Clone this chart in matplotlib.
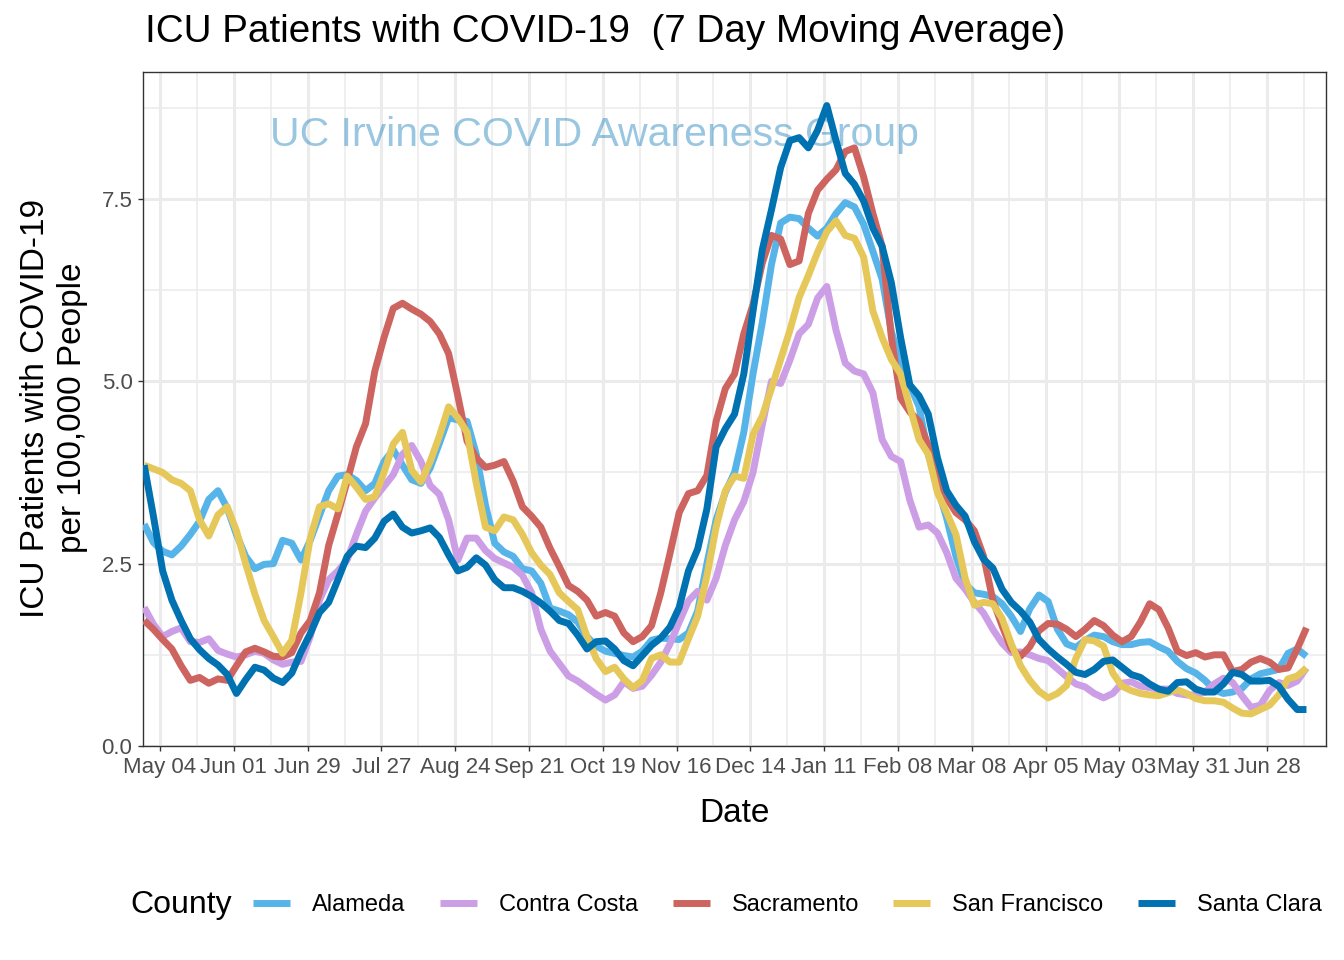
import matplotlib
matplotlib.use("Agg")
import matplotlib.pyplot as plt
import matplotlib.dates as mdates
from matplotlib.ticker import FixedLocator, FormatStrFormatter
import pandas as pd

plt.rcParams['font.family'] = ['Liberation Sans', 'DejaVu Sans']

# ---------------- data (half-weekly readings of the 7-day average) ----------------
dates = pd.date_range('2020-04-28', periods=127, freq='84h')

counties = ['Alameda', 'Contra Costa', 'Sacramento', 'San Francisco', 'Santa Clara']
colors = ['#56B4E9', '#CC9EE6', '#CD6460', '#E6C85A', '#0072B2']

alameda = [3.04, 2.79, 2.67, 2.62, 2.74, 2.90, 3.08, 3.38, 3.50, 3.26,
           2.90, 2.60, 2.43, 2.49, 2.50, 2.82, 2.78, 2.55, 2.82, 3.16,
           3.50, 3.70, 3.72, 3.64, 3.50, 3.60, 3.90, 4.06, 3.85, 3.65,
           3.60, 3.81, 4.15, 4.50, 4.47, 4.45, 4.00, 3.30, 2.78, 2.66,
           2.60, 2.43, 2.40, 2.23, 1.89, 1.85, 1.80, 1.70, 1.50, 1.37,
           1.30, 1.27, 1.24, 1.22, 1.30, 1.45, 1.48, 1.47, 1.46, 1.55,
           1.85, 2.50, 3.10, 3.48, 3.75, 4.30, 5.10, 5.80, 6.60, 7.17,
           7.25, 7.23, 7.10, 6.99, 7.10, 7.30, 7.45, 7.39, 7.15, 6.78,
           6.40, 5.68, 5.27, 4.95, 4.65, 4.00, 3.55, 3.12, 2.60, 2.22,
           2.10, 2.08, 2.05, 1.95, 1.78, 1.57, 1.88, 2.07, 1.98, 1.60,
           1.40, 1.35, 1.45, 1.52, 1.50, 1.43, 1.39, 1.39, 1.42, 1.43,
           1.36, 1.30, 1.16, 1.06, 1.00, 0.90, 0.77, 0.72, 0.74, 0.79,
           0.92, 0.99, 1.02, 1.05, 1.27, 1.33, 1.23]

contra_costa = [1.90, 1.67, 1.50, 1.57, 1.62, 1.43, 1.42, 1.47, 1.31, 1.26,
                1.22, 1.25, 1.30, 1.27, 1.18, 1.12, 1.15, 1.16, 1.50, 2.00,
                2.28, 2.40, 2.55, 2.90, 3.22, 3.40, 3.56, 3.72, 4.00, 4.12,
                3.90, 3.57, 3.45, 3.10, 2.55, 2.85, 2.85, 2.68, 2.57, 2.51,
                2.45, 2.34, 2.10, 1.60, 1.30, 1.13, 0.96, 0.89, 0.80, 0.71,
                0.63, 0.70, 0.88, 0.79, 0.82, 0.97, 1.15, 1.40, 1.70, 1.99,
                2.12, 2.00, 2.30, 2.75, 3.10, 3.35, 3.75, 4.40, 5.00, 4.97,
                5.29, 5.65, 5.78, 6.14, 6.30, 5.70, 5.25, 5.14, 5.10, 4.84,
                4.20, 3.97, 3.90, 3.37, 3.00, 3.03, 2.92, 2.65, 2.30, 2.15,
                1.97, 1.82, 1.60, 1.41, 1.28, 1.29, 1.25, 1.20, 1.17, 1.06,
                0.95, 0.85, 0.81, 0.72, 0.66, 0.72, 0.86, 0.88, 0.82, 0.80,
                0.78, 0.78, 0.72, 0.70, 0.70, 0.74, 0.85, 0.93, 0.87, 0.69,
                0.53, 0.56, 0.76, 0.87, 0.83, 0.89, 1.07]

sacramento = [1.72, 1.60, 1.46, 1.33, 1.10, 0.90, 0.94, 0.86, 0.92, 0.90,
              1.10, 1.29, 1.34, 1.29, 1.23, 1.22, 1.28, 1.55, 1.72, 2.10,
              2.75, 3.18, 3.63, 4.10, 4.42, 5.14, 5.60, 6.00, 6.07, 5.99,
              5.92, 5.82, 5.65, 5.38, 4.80, 4.18, 3.95, 3.82, 3.85, 3.90,
              3.63, 3.28, 3.15, 3.00, 2.71, 2.46, 2.20, 2.12, 2.00, 1.78,
              1.83, 1.78, 1.55, 1.43, 1.50, 1.65, 2.10, 2.64, 3.20, 3.46,
              3.50, 3.71, 4.45, 4.90, 5.10, 5.65, 6.05, 6.62, 7.00, 6.95,
              6.60, 6.65, 7.30, 7.62, 7.77, 7.90, 8.15, 8.20, 7.80, 7.30,
              6.85, 5.60, 4.77, 4.58, 4.45, 4.12, 3.70, 3.40, 3.20, 3.10,
              2.95, 2.60, 2.00, 1.65, 1.33, 1.23, 1.36, 1.58, 1.68, 1.67,
              1.60, 1.50, 1.60, 1.72, 1.65, 1.52, 1.43, 1.50, 1.70, 1.95,
              1.87, 1.62, 1.30, 1.24, 1.28, 1.22, 1.25, 1.25, 1.02, 1.05,
              1.15, 1.20, 1.15, 1.05, 1.07, 1.33, 1.62]

san_francisco = [3.85, 3.80, 3.75, 3.65, 3.60, 3.50, 3.10, 2.88, 3.17, 3.28,
                 2.95, 2.50, 2.08, 1.72, 1.50, 1.27, 1.45, 2.10, 2.85, 3.28,
                 3.32, 3.25, 3.70, 3.55, 3.38, 3.42, 3.75, 4.14, 4.30, 3.78,
                 3.62, 3.90, 4.25, 4.65, 4.50, 4.30, 3.60, 3.00, 2.95, 3.14,
                 3.10, 2.90, 2.65, 2.48, 2.35, 2.10, 1.98, 1.87, 1.50, 1.20,
                 1.02, 1.08, 0.92, 0.80, 0.90, 1.20, 1.25, 1.15, 1.15, 1.47,
                 1.78, 2.33, 3.00, 3.50, 3.70, 3.67, 4.27, 4.52, 4.90, 5.30,
                 5.70, 6.15, 6.45, 6.77, 7.05, 7.20, 7.00, 6.96, 6.70, 5.96,
                 5.60, 5.30, 5.10, 4.65, 4.20, 4.00, 3.47, 3.20, 2.90, 2.30,
                 1.93, 1.97, 1.95, 1.75, 1.40, 1.10, 0.90, 0.75, 0.66, 0.72,
                 0.83, 1.20, 1.46, 1.44, 1.37, 1.00, 0.82, 0.76, 0.72, 0.70,
                 0.69, 0.73, 0.77, 0.72, 0.65, 0.62, 0.62, 0.60, 0.52, 0.45,
                 0.44, 0.50, 0.56, 0.70, 0.92, 0.96, 1.07]

santa_clara = [3.85, 3.15, 2.40, 2.00, 1.72, 1.47, 1.32, 1.20, 1.11, 0.98,
               0.72, 0.91, 1.08, 1.04, 0.93, 0.87, 1.00, 1.29, 1.54, 1.83,
               1.97, 2.28, 2.60, 2.74, 2.72, 2.85, 3.08, 3.18, 3.00, 2.92,
               2.95, 2.99, 2.86, 2.62, 2.40, 2.45, 2.58, 2.48, 2.28, 2.17,
               2.17, 2.12, 2.05, 1.96, 1.85, 1.72, 1.68, 1.52, 1.33, 1.43,
               1.44, 1.33, 1.17, 1.10, 1.24, 1.38, 1.48, 1.63, 1.90, 2.40,
               2.70, 3.25, 4.10, 4.35, 4.55, 5.10, 5.96, 6.80, 7.35, 7.93,
               8.30, 8.34, 8.20, 8.44, 8.78, 8.30, 7.85, 7.70, 7.47, 7.10,
               6.85, 6.35, 5.60, 4.95, 4.80, 4.55, 3.95, 3.50, 3.30, 3.15,
               2.80, 2.56, 2.44, 2.15, 1.97, 1.85, 1.70, 1.46, 1.33, 1.22,
               1.12, 1.01, 0.98, 1.05, 1.16, 1.18, 1.08, 0.98, 0.94, 0.85,
               0.78, 0.75, 0.87, 0.88, 0.78, 0.74, 0.74, 0.85, 1.01, 0.98,
               0.89, 0.89, 0.90, 0.82, 0.64, 0.50, 0.50]

series = [alameda, contra_costa, sacramento, san_francisco, santa_clara]

major_dates = pd.date_range('2020-05-04', periods=16, freq='28D')
minor_dates = pd.date_range('2020-05-18', periods=16, freq='28D')
y_major = [0.0, 2.5, 5.0, 7.5]
y_minor = [1.25, 3.75, 6.25, 8.75]

# ---------------- figure ----------------
W, H = 1344, 960
fig = plt.figure(figsize=(W / 100, H / 100), dpi=100)
pl, pr, pt, pb = 143, 1326, 72, 746
ax = fig.add_axes([pl / W, 1 - pb / H, (pr - pl) / W, (pb - pt) / H])

lines = []
for name, vals, col in zip(counties, series, colors):
    ln, = ax.plot(dates, vals, color=col, lw=5.0, solid_joinstyle='round',
                  solid_capstyle='butt', label=name, zorder=3)
    lines.append(ln)

ax.text((270 - pl) / (pr - pl), (pb - 146) / (pb - pt), 'UC Irvine COVID Awareness Group',
        transform=ax.transAxes, ha='left', va='baseline', fontsize=29.5,
        color='#0072B2', alpha=0.4, zorder=2)

ax.set_xlim(pd.Timestamp('2020-04-27 13:00'), pd.Timestamp('2021-07-20 10:00'))
ax.set_ylim(0, 9.24)

ax.xaxis.set_major_locator(FixedLocator(mdates.date2num(major_dates)))
ax.xaxis.set_minor_locator(FixedLocator(mdates.date2num(minor_dates)))
ax.xaxis.set_major_formatter(mdates.DateFormatter('%b %d'))
ax.yaxis.set_major_locator(FixedLocator(y_major))
ax.yaxis.set_minor_locator(FixedLocator(y_minor))
ax.yaxis.set_major_formatter(FormatStrFormatter('%.1f'))

ax.set_axisbelow(True)
ax.grid(which='major', color='#EBEBEB', lw=2.2)
ax.grid(which='minor', color='#EBEBEB', lw=1.1)
ax.tick_params(which='minor', length=0)
ax.tick_params(which='major', length=3.6, width=1.0, color='#333333',
               labelsize=16, labelcolor='#4D4D4D', pad=4)
for s in ax.spines.values():
    s.set_color('#333333')
    s.set_linewidth(1.0)

# ---------------- texts ----------------
fig.text(145 / W, 1 - 42 / H, 'ICU Patients with COVID-19  (7 Day Moving Average)',
         fontsize=27.8, ha='left', va='baseline')
fig.text(734.5 / W, 1 - 822 / H, 'Date', fontsize=24, ha='center', va='baseline')
fig.text(44 / W, 1 - 408 / H, 'ICU Patients with COVID-19', fontsize=24, rotation=90,
         rotation_mode='anchor', ha='center', va='baseline')
fig.text(81 / W, 1 - 408 / H, 'per 100,000 People', fontsize=24, rotation=90,
         rotation_mode='anchor', ha='center', va='baseline')

fig.text(130 / W, 1 - 913 / H, 'County', fontsize=23, ha='left', va='baseline')
fig.legend(handles=lines, labels=counties, ncol=5, loc='center left',
           bbox_to_anchor=(253 / W, 1 - 905 / H), frameon=False, fontsize=17,
           handlelength=1.57, handletextpad=0.93, columnspacing=1.46,
           borderpad=0, borderaxespad=0)

fig.savefig('out.png', dpi=100)
